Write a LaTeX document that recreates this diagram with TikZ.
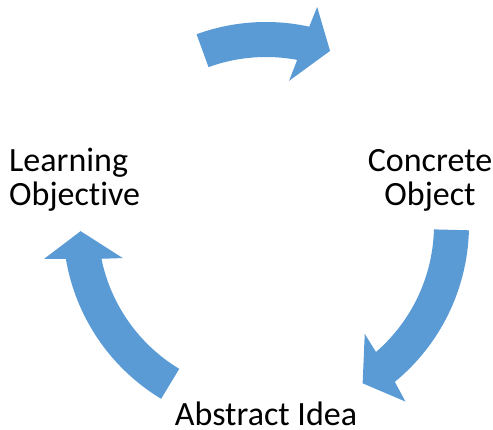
\documentclass[tikz,border=0pt]{standalone}
\usepackage{fontspec}
\setmainfont{Carlito}[Ligatures=NoCommon]
\definecolor{arrowblue}{HTML}{5B9BD5}

\begin{document}
\begin{tikzpicture}[x=1pt,y=1pt,
  cyclearrow/.style={fill=arrowblue,draw=none},
  steptext/.style={inner sep=0pt,font=\fontsize{34}{34}\selectfont}]

\useasboundingbox (0,0) rectangle (493,430);

% the three labels
\node[steptext, align=left, anchor=base west] (learn) at (9,224) {Learning\\Objective};
\node[steptext, align=center, anchor=base] (concrete) at (430,224) {Concrete\\Object};
\node[steptext, anchor=base] (abstract) at (266,4) {Abstract Idea};

% the three curved arrows, round the centre of the cycle
\begin{scope}[shift={(266,205)}]
\fill[cyclearrow] (110:203) arc[start angle=110,end angle=77.7,radius=203]
  -- (76.8:224) -- (69.8:185.5) -- (80.9:146) -- (79.3:168)
  arc[start angle=79.3,end angle=110,radius=168] -- cycle;
\fill[cyclearrow] (-1.5:203) arc[start angle=-1.5,end angle=-50.6,radius=203]
  -- (-51.7:225) -- (-58.6:185.5) -- (-47.8:147) -- (-49.1:168)
  arc[start angle=-49.1,end angle=-1.5,radius=168] -- cycle;
\fill[cyclearrow] (238.9:203) arc[start angle=238.9,end angle=189.6,radius=203]
  -- (188.7:224.6) -- (181.9:185.5) -- (193:147) -- (191.6:168)
  arc[start angle=191.6,end angle=238.9,radius=168] -- cycle;
\end{scope}

\end{tikzpicture}
\end{document}
